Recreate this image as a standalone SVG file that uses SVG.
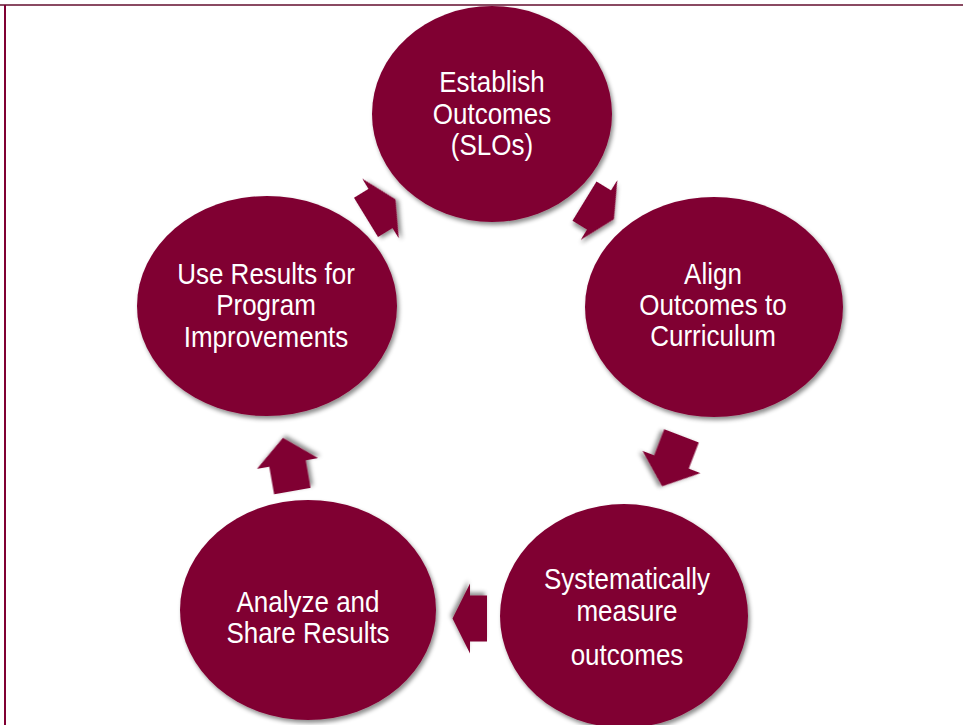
<svg xmlns="http://www.w3.org/2000/svg" width="963" height="725" viewBox="0 0 963 725">
<defs>
<filter id="sh" x="-20%" y="-20%" width="140%" height="140%">
<feDropShadow dx="2" dy="3" stdDeviation="2" flood-color="#000" flood-opacity="0.45"/>
</filter>
<path id="arrA" d="M-17,-23 L0,-23 L0,-35 L17.5,0 L0,35 L0,23 L-17,23 Z"/>
<path id="arrB" d="M-28,-18.5 L0,-18.5 L0,-31 L26,0 L0,31 L0,18.5 L-28,18.5 Z"/>
</defs>
<style>
.node{fill:#800033;filter:url(#sh)}
.arr{fill:#800033;filter:url(#sh)}
.lbl{fill:#ffffff;font-family:"Liberation Sans",Arial,sans-serif;font-size:26px;text-anchor:middle}
</style>
<rect x="0" y="0" width="963" height="725" fill="#ffffff"/>
<line x1="0" y1="5" x2="963" y2="5" stroke="#8a4a62" stroke-width="2"/>
<line x1="5" y1="5" x2="5" y2="725" stroke="#800033" stroke-width="2"/>

<g id="connectors">
<use href="#arrA" class="arr" transform="translate(380.5,208.5) rotate(-31.5)"/>
<use href="#arrA" class="arr" transform="translate(599,210) rotate(31.5)"/>
<use href="#arrB" class="arr" transform="translate(671.5,462) rotate(111)"/>
<use href="#arrA" class="arr" transform="translate(470,618.5) rotate(180)"/>
<use href="#arrB" class="arr" transform="translate(287.5,463.5) rotate(-100)"/>
</g>

<g id="n1">
<ellipse class="node" cx="492" cy="114" rx="120" ry="108"/>
<text class="lbl" transform="translate(492,92) scale(1,1.12)">Establish</text>
<text class="lbl" transform="translate(492,124) scale(1,1.12)">Outcomes</text>
<text class="lbl" transform="translate(492,155) scale(1,1.12)">(SLOs)</text>
</g>
<g id="n2">
<ellipse class="node" cx="714" cy="307" rx="129" ry="110"/>
<text class="lbl" transform="translate(713,284) scale(1,1.12)">Align</text>
<text class="lbl" transform="translate(713,315) scale(1,1.12)">Outcomes to</text>
<text class="lbl" transform="translate(713,346) scale(1,1.12)">Curriculum</text>
</g>
<g id="n3">
<ellipse class="node" cx="624" cy="616" rx="124" ry="112"/>
<text class="lbl" transform="translate(627,589) scale(1,1.12)">Systematically</text>
<text class="lbl" transform="translate(627,621) scale(1,1.12)">measure</text>
<text class="lbl" transform="translate(627,665) scale(1,1.12)">outcomes</text>
</g>
<g id="n4">
<ellipse class="node" cx="308" cy="610" rx="128" ry="110"/>
<text class="lbl" transform="translate(308,612) scale(1,1.12)">Analyze and</text>
<text class="lbl" transform="translate(308,643) scale(1,1.12)">Share Results</text>
</g>
<g id="n5">
<ellipse class="node" cx="267" cy="306" rx="130" ry="110"/>
<text class="lbl" transform="translate(266,284) scale(1,1.12)">Use Results for</text>
<text class="lbl" transform="translate(266,315) scale(1,1.12)">Program</text>
<text class="lbl" transform="translate(266,347) scale(1,1.12)">Improvements</text>
</g>
</svg>
